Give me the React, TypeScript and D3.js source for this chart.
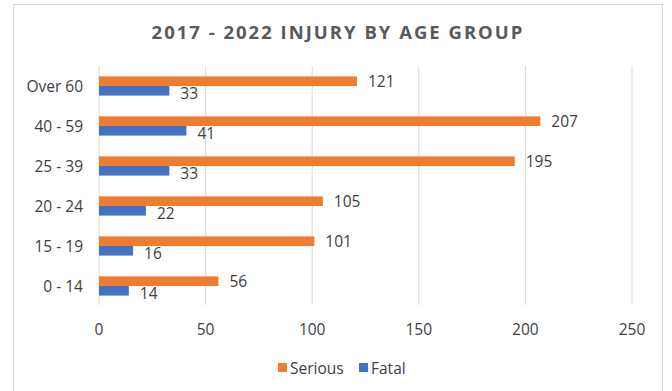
import React from "react";
import * as d3 from "d3";

const categories = ["Over 60", "40 - 59", "25 - 39", "20 - 24", "15 - 19", "0 - 14"];
const serious = [121, 207, 195, 105, 101, 56];
const fatal = [33, 41, 33, 22, 16, 14];
const xTicks = [0, 50, 100, 150, 200, 250];
const seriesNames = ["Serious", "Fatal"];
const seriesColors = ["#ED7D31", "#4472C4"];

const W = 672;
const H = 391;
const FONT = "'Open Sans', 'Liberation Sans', sans-serif";
const FS = 15.5;

export default function App() {
  const x = d3.scaleLinear().domain([0, 250]).range([99, 632]);
  const y = d3.scaleBand<string>().domain(categories).range([66, 306]).paddingInner(0).paddingOuter(0);
  const step = y.step();
  const barH = 9.6;
  const series = [serious, fatal];

  return (
    <svg
      width={W}
      height={H}
      style={{ position: "absolute", left: 0, top: 0, background: "#fff" }}
      fontFamily={FONT}
    >
      <rect x={13.5} y={4.5} width={649} height={400} fill="#fff" stroke="#d9d9d9" strokeWidth={1} />
      <text
        x={338}
        y={39}
        textAnchor="middle"
        fontSize={18.5}
        fontWeight={700}
        letterSpacing={2}
        fill="#595959"
      >
        2017 - 2022 INJURY BY AGE GROUP
      </text>

      {xTicks.map((t) => (
        <g key={t}>
          <line x1={x(t)} x2={x(t)} y1={66} y2={305} stroke="#d9d9d9" strokeWidth={1} />
          <text x={x(t)} y={335} textAnchor="middle" fontSize={FS} fill="#404040">
            {t}
          </text>
        </g>
      ))}

      {categories.map((c) => (
        <text
          key={c}
          x={83}
          y={(y(c) as number) + step / 2 + 5.5}
          textAnchor="end"
          fontSize={FS}
          fill="#404040"
        >
          {c}
        </text>
      ))}

      {series.map((vals, si) =>
        categories.map((c, i) => {
          const mid = (y(c) as number) + step / 2;
          const top = si === 0 ? mid - barH : mid;
          return (
            <g key={`${si}-${c}`}>
              <rect x={x(0)} y={top} width={x(vals[i]) - x(0)} height={barH} fill={seriesColors[si]} />
              <text
                x={x(vals[i]) + 11}
                y={top + barH / 2 + (si === 0 ? 6 : 8)}
                fontSize={FS}
                fill="#404040"
              >
                {vals[i]}
              </text>
            </g>
          );
        })
      )}

      {seriesNames.map((s, i) => {
        const lx = [278, 359][i];
        return (
          <g key={s}>
            <rect x={lx} y={363} width={9} height={9} fill={seriesColors[i]} />
            <text x={lx + 12} y={373.5} fontSize={FS} fill="#404040">
              {s}
            </text>
          </g>
        );
      })}
    </svg>
  );
}
